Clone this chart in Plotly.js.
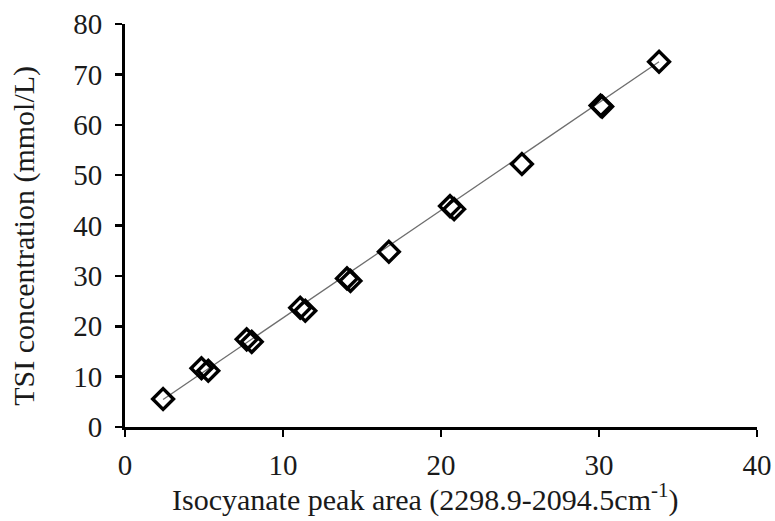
<!DOCTYPE html>
<html>
<head>
<meta charset="utf-8">
<script src="https://cdn.plot.ly/plotly-3.0.1.min.js"></script>
<style>html,body{margin:0;padding:0;background:#fff;}#chart{width:775px;height:521px;}</style>
</head>
<body>
<div id="chart"></div>
<script>
// Measured points (each standard appears as two overlapping replicate markers)
var peakArea = [2.41, 4.84, 5.27, 7.70, 8.02, 11.09, 11.41, 14.05, 14.27, 16.7, 20.57, 20.83, 25.12, 30.1, 30.2, 33.8];
var tsiConc  = [5.55, 11.65, 11.17, 17.4, 16.9, 23.67, 23.08, 29.5, 29.0, 34.8, 43.85, 43.25, 52.2, 63.8, 63.6, 72.5];
// Linear trendline end points as drawn
var trendX = [2.41, 33.8];
var trendY = [5.45, 72.5];
var xTicks = [0, 10, 20, 30, 40];
var yTicks = [0, 10, 20, 30, 40, 50, 60, 70, 80];
var xTitle = 'Isocyanate peak area (2298.9-2094.5cm<sup>-1</sup>)';
var yTitle = 'TSI concentration (mmol/L)';

var font = 'Liberation Serif, Times New Roman, serif';
var txt = '#1a1a1a';

var traces = [
  {x: trendX, y: trendY, mode: 'lines', line: {color: '#6e6e6e', width: 1.3}, hoverinfo: 'skip', showlegend: false},
  {x: peakArea, y: tsiConc, mode: 'markers', showlegend: false,
   marker: {symbol: 'diamond-open', size: 16, color: '#000', line: {color: '#000', width: 3.4}}}
];

var layout = {
  width: 775, height: 521,
  margin: {l: 125, r: 18, t: 24, b: 94},
  paper_bgcolor: '#fff', plot_bgcolor: '#fff',
  font: {family: font, color: txt},
  xaxis: {
    range: [0, 40], tickvals: xTicks, ticktext: xTicks.map(String),
    showgrid: false, zeroline: false, showline: true, linecolor: '#000', linewidth: 3,
    ticks: 'outside', ticklen: 7, tickwidth: 2.5, tickcolor: '#000',
    ticklabelstandoff: 3,
    tickfont: {family: font, size: 29, color: txt}
  },
  yaxis: {
    range: [0, 80], tickvals: yTicks, ticktext: yTicks.map(String),
    showgrid: false, zeroline: false, showline: true, linecolor: '#000', linewidth: 3,
    ticks: 'outside', ticklen: 7, tickwidth: 2.5, tickcolor: '#000',
    ticklabelstandoff: 7,
    tickfont: {family: font, size: 29, color: txt}
  },
  annotations: [
    {text: xTitle, xref: 'paper', yref: 'paper', x: 0.475, y: -0.175, xanchor: 'center', yanchor: 'middle',
     showarrow: false, font: {family: font, size: 30, color: txt}},
    {text: yTitle, xref: 'paper', yref: 'paper', x: -0.16, y: 0.474, xanchor: 'center', yanchor: 'middle',
     textangle: -90, showarrow: false, font: {family: font, size: 30, color: txt}}
  ]
};

Plotly.newPlot('chart', traces, layout, {displayModeBar: false, staticPlot: true});
</script>
</body>
</html>
